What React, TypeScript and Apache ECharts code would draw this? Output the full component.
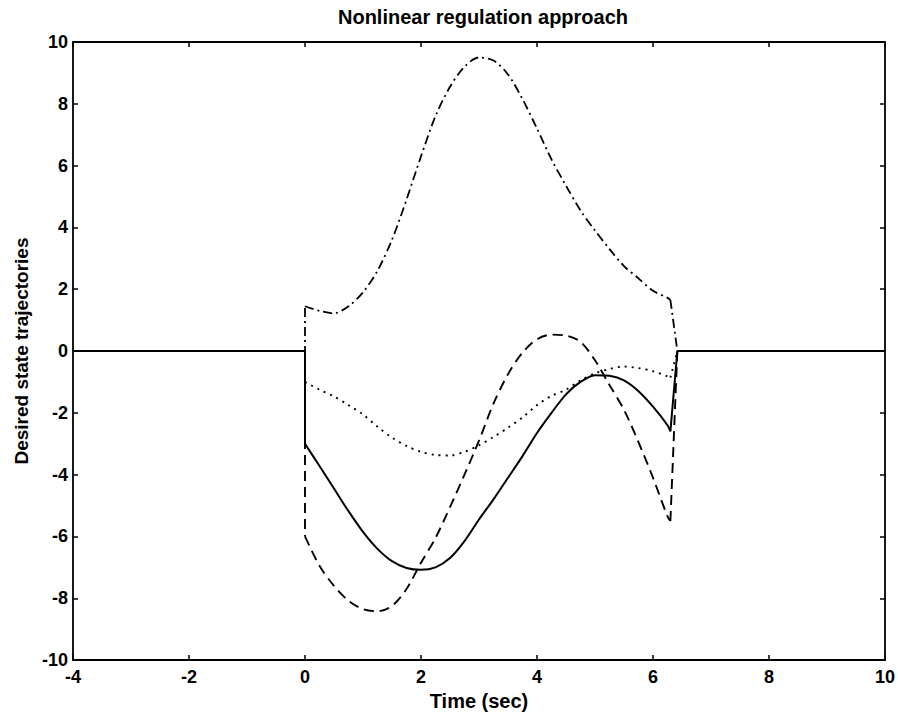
import React, { useEffect, useRef } from "react";
import * as echarts from "echarts";

// Time axis of the trajectories (sec); before 0 and after ~6.4 every state is 0
const timeBefore = [-4, 0];
const timeTraj = [
  0, 0.25, 0.5, 0.75, 1.0, 1.25, 1.5, 1.75, 2.0, 2.25, 2.5, 2.75, 3.0, 3.25,
  3.5, 3.75, 4.0, 4.25, 4.5, 4.75, 5.0, 5.25, 5.5, 5.75, 6.0, 6.25, 6.3,
];
const timeAfter = [6.42, 10];

// Desired state trajectories
const solidState = [
  -3.0, -3.72, -4.45, -5.18, -5.85, -6.4, -6.8, -7.02, -7.08, -7.0, -6.7,
  -6.15, -5.45, -4.8, -4.1, -3.4, -2.65, -2.0, -1.4, -1.0, -0.78, -0.8, -0.95,
  -1.3, -1.8, -2.4, -2.6,
];
const dashedState = [
  -6.0, -6.95, -7.6, -8.08, -8.35, -8.42, -8.25, -7.7, -6.85, -6.05, -5.05,
  -4.0, -2.9, -1.7, -0.75, -0.05, 0.38, 0.53, 0.5, 0.3, -0.3, -1.1, -1.9,
  -2.95, -4.1, -5.35, -5.5,
];
const dashDotState = [
  1.45, 1.3, 1.22, 1.45, 1.9, 2.6, 3.6, 4.9, 6.3, 7.6, 8.55, 9.2, 9.5, 9.4,
  8.95, 8.15, 7.2, 6.2, 5.35, 4.55, 3.9, 3.3, 2.75, 2.35, 1.95, 1.72, 1.65,
];
const dottedState = [
  -1.0, -1.25, -1.47, -1.75, -2.05, -2.45, -2.8, -3.07, -3.26, -3.36, -3.38,
  -3.26, -3.05, -2.78, -2.48, -2.15, -1.75, -1.45, -1.25, -0.95, -0.72, -0.58,
  -0.5, -0.55, -0.65, -0.82, -0.86,
];

const xTicks = [-4, -2, 0, 2, 4, 6, 8, 10];
const yTicks = [-10, -8, -6, -4, -2, 0, 2, 4, 6, 8, 10];

const TITLE = "Nonlinear regulation approach";
const X_NAME = "Time (sec)";
const Y_NAME = "Desired state trajectories";

const FONT = "'Liberation Sans', Arial, Helvetica, sans-serif";

export default function App() {
  const ref = useRef<HTMLDivElement>(null);

  useEffect(() => {
    if (!ref.current) return;
    document.body.style.margin = "0";
    const chart = echarts.init(ref.current, null, { renderer: "svg" });

    const axisLine = {
      show: true,
      onZero: false,
      lineStyle: { color: "#000", width: 1.8 },
    };
    const axisTick = {
      show: true,
      inside: true,
      length: 5,
      lineStyle: { color: "#000", width: 1.5 },
    };
    const labelStyle = {
      color: "#000",
      fontFamily: FONT,
      fontWeight: "bold" as const,
      fontSize: 18,
    };

    const baseLine = (
      name: string,
      data: number[][],
      type: any,
      width: number,
      z: number,
      smooth: number | boolean
    ) => ({
      name,
      type: "line",
      data,
      showSymbol: false,
      symbol: "none",
      smooth,
      z,
      lineStyle: { color: "#000", width, type, cap: "butt" },
      emphasis: { disabled: true },
    });

    // one state = zero lead-in + jump, smooth trajectory, jump + zero tail
    const stateSeries = (
      name: string,
      values: number[],
      type: any,
      width: number,
      z: number
    ) => {
      const lead = timeBefore.map((t) => [t, 0]);
      lead.push([timeTraj[0], values[0]]);
      const traj = timeTraj.map((t, i) => [t, values[i]]);
      const tail = [[timeTraj[timeTraj.length - 1], values[values.length - 1]]];
      timeAfter.forEach((t) => tail.push([t, 0]));
      return [
        baseLine(name + "-lead", lead, type, width, z, false),
        baseLine(name, traj, type, width, z, 0.3),
        baseLine(name + "-tail", tail, type, width, z, false),
      ];
    };

    chart.setOption({
      animation: false,
      backgroundColor: "#fff",
      grid: { left: 73, right: 12, top: 42, bottom: 54, containLabel: false },
      graphic: [
        {
          type: "text",
          x: 483,
          y: 17,
          style: {
            text: TITLE,
            fill: "#000",
            font: `bold 20px ${FONT}`,
            textAlign: "center",
            textVerticalAlign: "middle",
          },
        },
      ],
      xAxis: [
        {
          type: "value",
          min: xTicks[0],
          max: xTicks[xTicks.length - 1],
          interval: 2,
          position: "bottom",
          axisLine,
          axisTick,
          splitLine: { show: false },
          axisLabel: { ...labelStyle, margin: 8 },
          name: X_NAME,
          nameLocation: "middle",
          nameGap: 30,
          nameTextStyle: { ...labelStyle, fontSize: 20, fontWeight: "bold" },
        },
        {
          type: "value",
          min: xTicks[0],
          max: xTicks[xTicks.length - 1],
          interval: 2,
          position: "top",
          axisLine,
          axisTick,
          splitLine: { show: false },
          axisLabel: { show: false },
        },
      ],
      yAxis: [
        {
          type: "value",
          min: yTicks[0],
          max: yTicks[yTicks.length - 1],
          interval: 2,
          position: "left",
          axisLine,
          axisTick,
          splitLine: { show: false },
          axisLabel: { ...labelStyle, margin: 5 },
          name: Y_NAME,
          nameLocation: "middle",
          nameGap: 42,
          nameRotate: 90,
          nameTextStyle: { ...labelStyle, fontSize: 19, fontWeight: "bold" },
        },
        {
          type: "value",
          min: yTicks[0],
          max: yTicks[yTicks.length - 1],
          interval: 2,
          position: "right",
          axisLine,
          axisTick,
          splitLine: { show: false },
          axisLabel: { show: false },
        },
      ],
      series: [
        ...stateSeries("dotted", dottedState, [2, 5], 1.9, 2),
        ...stateSeries("dashdot", dashDotState, [9, 4, 2, 4], 1.8, 3),
        ...stateSeries("dashed", dashedState, [10, 6], 1.9, 4),
        ...stateSeries("solid", solidState, "solid", 2, 5),
      ],
    });

    return () => chart.dispose();
  }, []);

  return <div ref={ref} style={{ width: 898, height: 716 }} />;
}
